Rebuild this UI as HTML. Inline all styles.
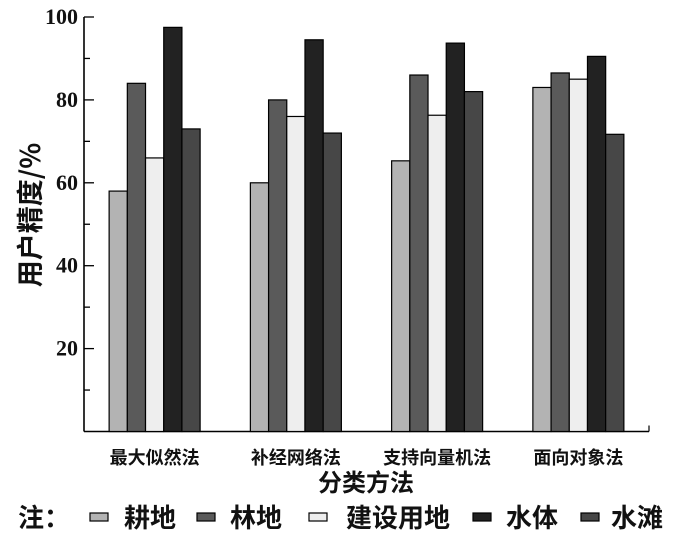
<!DOCTYPE html>
<html><head><meta charset="utf-8">
<style>
body{margin:0;background:#fff;}
svg text{font-family:"Liberation Serif","Noto Serif CJK SC","Noto Sans CJK SC",serif;fill:#111;}
.cjk{font-family:"Noto Sans CJK SC","WenQuanYi Zen Hei",sans-serif !important;font-weight:bold;}
</style></head>
<body>
<svg id="chart" width="700" height="540" viewBox="0 0 700 540">
<g id="axes"></g><g id="bars"></g><g id="labels"></g><g id="legend"></g>
</svg>
<script>
const categories=["最大似然法","补经网络法","支持向量机法","面向对象法"];
const seriesNames=["耕地","林地","建设用地","水体","水滩"];
const gengdi=[58,60,65.3,83];
const lindi=[84,80,86,86.5];
const jianshe=[66,76,76.3,85];
const shuiti=[97.5,94.5,93.7,90.5];
const shuitan=[73,72,82,71.7];
const series=[gengdi,lindi,jianshe,shuiti,shuitan];
const colors=["#b3b3b3","#5a5a5a","#eeeeee","#222222","#474747"];
const yTicks=[20,40,60,80,100];
const NS="http://www.w3.org/2000/svg";
const X0=84,X1=649,Y0=431.5,Y100=17;
const y=v=>Y0-(Y0-Y100)*v/100;
const bw=(X1-X0)/categories.length;
const cx=i=>X0+bw*(i+0.5);
const barW=18.2;
function mk(tag,attrs,parent){const e=document.createElementNS(NS,tag);for(const k in attrs)e.setAttribute(k,attrs[k]);parent.appendChild(e);return e;}
const axes=document.getElementById('axes'),bars=document.getElementById('bars'),labels=document.getElementById('labels'),legend=document.getElementById('legend');
series.forEach((s,si)=>{s.forEach((v,ci)=>{
 const r=mk('rect',{x:cx(ci)-2.5*barW+si*barW,y:y(v),width:barW,height:Y0-y(v),fill:colors[si],stroke:"#000","stroke-width":1.2},bars);
 
 
});});
const ya=mk('line',{x1:X0,y1:Y100,x2:X0,y2:Y0,stroke:"#000","stroke-width":1.6},axes);

const xa=mk('line',{x1:X0,y1:Y0,x2:X1,y2:Y0,stroke:"#000","stroke-width":1.6},axes);

for(let v=10;v<=100;v+=10){
 const major=v%20===0;
 const t=mk('line',{x1:X0,y1:y(v),x2:X0+(major?10:6),y2:y(v),stroke:"#000","stroke-width":1.3},axes);
 
}
yTicks.forEach(v=>{
 const t=mk('text',{x:X0-6,y:y(v)+7,"text-anchor":"end","font-size":22,"font-weight":"bold"},labels);
 t.textContent=v;
 
});
categories.forEach((c,i)=>{
 const tk=mk('line',{x1:cx(i),y1:Y0,x2:cx(i),y2:Y0-6,stroke:"#000","stroke-width":1.2},axes);
 
 const t=mk('text',{x:cx(i),y:464,"text-anchor":"middle","font-size":18,"class":"cjk"},labels);
 t.textContent=c;
 
});
const et=mk('line',{x1:X1,y1:Y0,x2:X1,y2:Y0-6,stroke:"#000","stroke-width":1.2},axes);

const xt=mk('text',{x:366,y:491,"text-anchor":"middle","font-size":24,"class":"cjk"},labels);
xt.textContent="分类方法";

const ytl=mk('text',{x:0,y:0,"text-anchor":"middle","font-size":27,"class":"cjk",transform:"translate(40,215) rotate(-90)"},labels);
ytl.textContent="用户精度/%";

const note=mk('text',{x:18,y:527,"font-size":26,"class":"cjk"},legend);
note.textContent="注：";

const swX=[90,197,309,473,581],txX=[124,230,346,506,611];
seriesNames.forEach((n,i)=>{
 const s=mk('rect',{x:swX[i],y:513,width:18,height:8,fill:colors[i],stroke:"#000","stroke-width":1.2},legend);
 
 const t=mk('text',{x:txX[i],y:527,"font-size":26,"class":"cjk"},legend);
 t.textContent=n;
 
});
</script>
</body></html>
